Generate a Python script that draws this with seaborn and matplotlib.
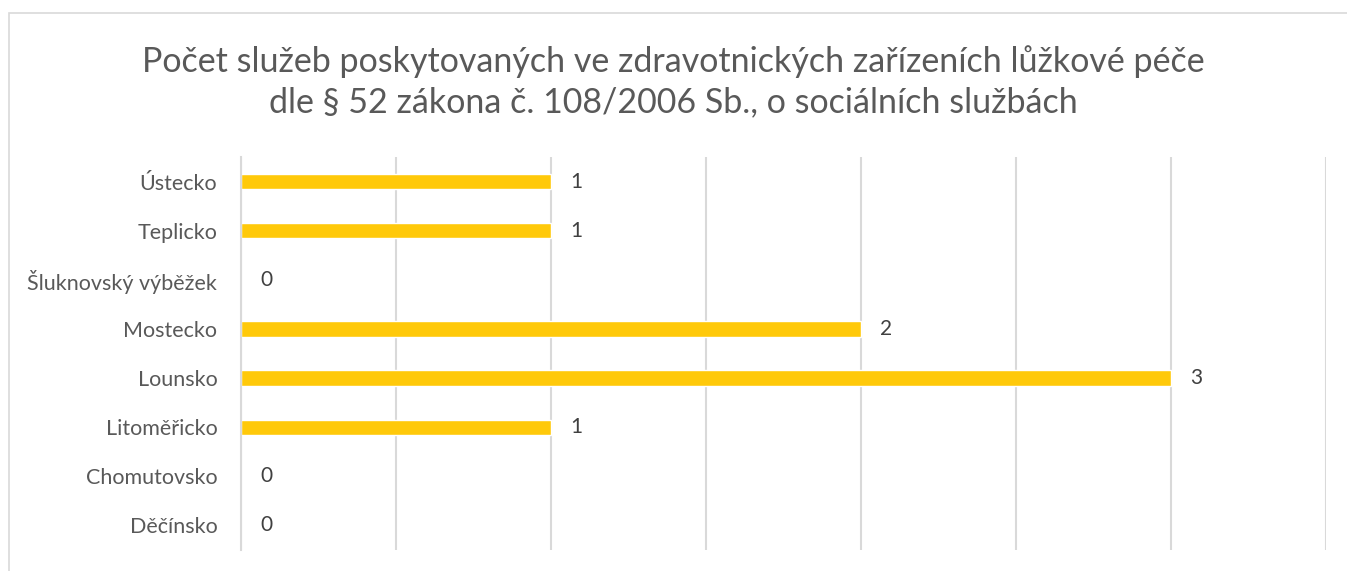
import numpy as np
import pandas as pd
import seaborn as sns
from matplotlib import pyplot as plt
from matplotlib.patches import Rectangle

# data
okresy = ['Ústecko', 'Teplicko', 'Šluknovský výběžek', 'Mostecko',
          'Lounsko', 'Litoměřicko', 'Chomutovsko', 'Děčínsko']
pocet = [1, 1, 0, 2, 3, 1, 0, 0]

df = pd.DataFrame({'okres': okresy, 'pocet': pocet})

sns.set_style('white')
plt.rcParams['font.family'] = ['Lato', 'DejaVu Sans']

fig = plt.figure(figsize=(13.47, 5.71), dpi=100)
ax = fig.add_axes([0.1789, 0.0368, 0.8055, 0.6882])

sns.barplot(data=df, x='pocet', y='okres', orient='h', color='#FFC90A',
            saturation=1, width=0.31, edgecolor='white', linewidth=1, ax=ax)

for c in ax.containers:
    ax.bar_label(c, padding=14, fontsize=15, color='#404040')

ax.set_xlim(0, 3.5)
ax.set_ylim(7.5, -0.5)
ax.set_xticks(np.arange(0, 3.51, 0.5))
ax.set_xticklabels([])
ax.tick_params(axis='x', length=0)
ax.grid(axis='x', color='#D9D9D9', linewidth=1.5)
ax.set_axisbelow(True)
ax.set_xlabel('')
ax.set_ylabel('')

ax.tick_params(axis='y', which='major', length=0, labelsize=15.5,
               labelcolor='#595959', pad=17)
ax.set_yticks(np.arange(-0.5, 7.6, 1), minor=True)
ax.tick_params(axis='y', which='minor', length=6, color='#D9D9D9', width=1.5)

for s in ['top', 'right', 'bottom']:
    ax.spines[s].set_visible(False)
ax.spines['left'].set_color('#D9D9D9')
ax.spines['left'].set_linewidth(1.5)

fig.text(0.5, 0.857,
         'Počet služeb poskytovaných ve zdravotnických zařízeních lůžkové péče\n'
         'dle § 52 zákona č. 108/2006 Sb., o sociálních službách',
         ha='center', va='center', fontsize=24.5, color='#595959', linespacing=1.3)

# chart border
fig.patches.append(Rectangle((0.0067, -0.05), 1.1, 1.027, transform=fig.transFigure,
                             fill=False, edgecolor='#D9D9D9', linewidth=1.2))

fig.savefig('out.png', dpi=100)
